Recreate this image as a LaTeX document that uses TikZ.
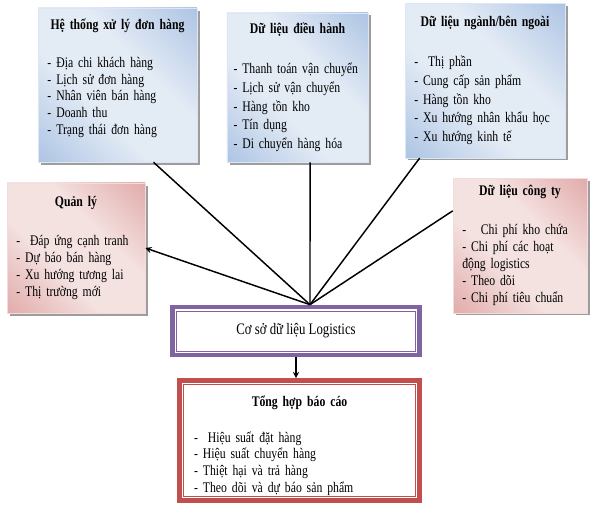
\documentclass[tikz,border=0pt]{standalone}
\usepackage{fontspec}
\setmainfont{Liberation Serif}[FakeStretch=0.8]
\usetikzlibrary{arrows}
\usetikzlibrary{shapes}
\usetikzlibrary{shadows}
\definecolor{bluedark}{HTML}{8FAEDA}
\definecolor{bluelight}{HTML}{E3EBF5}
\definecolor{pinkdark}{HTML}{D68C8A}
\definecolor{pinklight}{HTML}{F4E2E1}
\definecolor{purplec}{HTML}{8064A2}
\definecolor{redc}{HTML}{C0504D}
\pgfdeclarehorizontalshading{blueband}{100bp}{color(0bp)=(bluedark); color(40bp)=(bluelight); color(60bp)=(bluelight); color(100bp)=(bluedark)}
\pgfdeclarehorizontalshading{pinkband}{100bp}{color(0bp)=(pinkdark); color(40bp)=(pinklight); color(60bp)=(pinklight); color(100bp)=(pinkdark)}
\newcommand{\boxtitle}[1]{{\centering\textbf{#1}\par}\vspace{16pt}}
\tikzstyle{bluebox} = [rectangle, draw=bluedark!30!white, shading=blueband, shading angle=45, drop shadow={shadow xshift=2pt, shadow yshift=-2pt, fill=gray!90!black, opacity=0.7}, align=left, inner xsep=7pt, font=\fontsize{11}{14}\selectfont]
\tikzstyle{pinkbox} = [rectangle, draw=pinkdark!30!white, shading=pinkband, shading angle=45, drop shadow={shadow xshift=2pt, shadow yshift=-2pt, fill=gray!90!black, opacity=0.7}, align=left, inner xsep=7pt, font=\fontsize{11}{12.75}\selectfont]
\tikzstyle{purplebox} = [rectangle, draw=purplec, fill=white, line width=3.5pt, font=\fontsize{12}{13}\selectfont, path picture={\draw[purplec, line width=0.7pt] ([shift={(3pt,3pt)}]path picture bounding box.south west) rectangle ([shift={(-3pt,-3pt)}]path picture bounding box.north east);}]
\tikzstyle{redbox} = [rectangle, draw=redc, fill=white, line width=3.5pt, align=left, inner xsep=11pt, font=\fontsize{11}{12.5}\selectfont, path picture={\draw[redc, line width=0.7pt] ([shift={(3pt,3pt)}]path picture bounding box.south west) rectangle ([shift={(-3pt,-3pt)}]path picture bounding box.north east);}]
\tikzstyle{link} = [line width=1.1pt]
\tikzstyle{arrow} = [line width=1.1pt,->,>=stealth]

\begin{document}
\begin{tikzpicture}[x=0.75pt, y=-0.75pt]
\useasboundingbox (0,0) rectangle (590,513);

\node [bluebox, text width=105pt, minimum height=115.5pt, font=\fontsize{11}{12.5}\selectfont] (hethong) at (117.5,85) {\boxtitle{Hệ thống xử lý đơn hàng}- Địa chi khách hàng\\- Lịch sử đơn hàng\\- Nhân viên bán hàng\\- Doanh thu\\- Trạng thái đơn hàng\\ \mbox{}};
\node [bluebox, text width=96pt, minimum height=112pt, inner xsep=5pt] (dieuhanh) at (297.5,87.5) {\boxtitle{Dữ liệu điều hành}- Thanh toán vận chuyển\\- Lịch sử vận chuyển\\- Hàng tồn kho\\- Tín dụng\\- Di chuyển hàng hóa};
\node [bluebox, text width=106pt, minimum height=116pt] (nganh) at (485,80.5) {\boxtitle{Dữ liệu ngành/bên ngoài}-~ Thị phần\\- Cung cấp sản phẩm\\- Hàng tồn kho\\- Xu hướng nhân khẩu học\\- Xu hướng kinh tế};
\node [pinkbox, text width=89.5pt, minimum height=97.5pt] (quanly) at (76,248) {\boxtitle{Quản lý}-~ Đáp ứng cạnh tranh\\- Dự báo bán hàng\\- Xu hướng tương lai\\- Thị trường mới};
\node [pinkbox, text width=86.5pt, minimum height=101pt] (congty) at (520,245.5) {\boxtitle{Dữ liệu công ty}-~~ Chi phí kho chứa\\- Chi phí các hoạt\\động logistics\\- Theo dõi\\- Chi phí tiêu chuẩn};
\node [purplebox, minimum width=185pt, minimum height=36pt] (coso) at (296,331) {Cơ sở dữ liệu Logistics};
\node [redbox, text width=158pt, minimum height=90pt] (tonghop) at (299.5,440.5) {{\centering\rule{0pt}{16pt}\textbf{Tổng hợp báo cáo}\par}\vspace{14pt}-~ Hiệu suất đặt hàng\\- Hiệu suất chuyển hàng\\- Thiệt hại và trả hàng\\- Theo dõi và dự báo sản phẩm};

\coordinate (hub) at ([xshift=10.5pt]coso.north);
\draw [link] ([xshift=27pt]hethong.south) -- (hub);
\draw [link] ([xshift=9.4pt]dieuhanh.south) -- (hub);
\draw [link] ([xshift=-49pt]nganh.south) -- (hub);
\draw [link] ([yshift=26pt]congty.west) -- (hub);
\draw [arrow] (hub) -- (quanly.east);
\draw [arrow] (coso.south) -- (coso.south |- tonghop.north);

\end{tikzpicture}
\end{document}
